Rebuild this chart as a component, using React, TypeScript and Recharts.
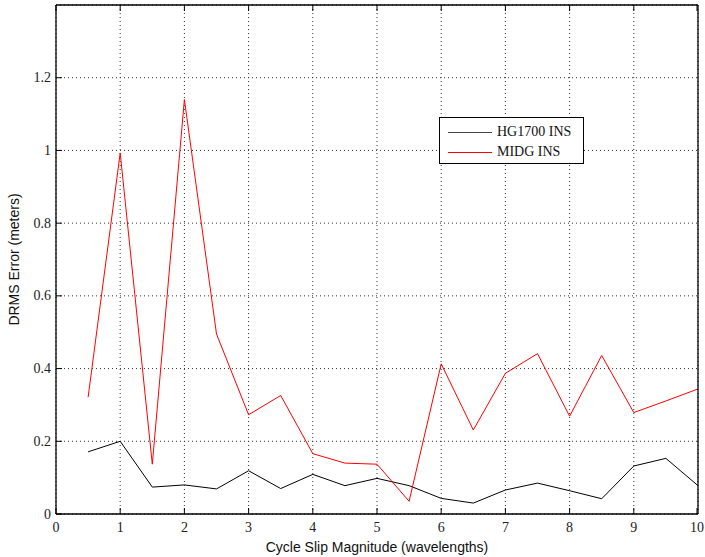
import React from "react"
import { CartesianGrid, Line, LineChart, XAxis, YAxis } from "recharts"

// cycle slip magnitude (wavelengths)
const slips = [0.5, 1, 1.5, 2, 2.5, 3, 3.5, 4, 4.5, 5, 5.5, 6, 6.5, 7, 7.5, 8, 8.5, 9, 9.5, 10]

// DRMS error (meters) per INS
const hg1700 = [0.171, 0.2, 0.074, 0.08, 0.069, 0.119, 0.07, 0.109, 0.078, 0.098, 0.078, 0.043, 0.03, 0.066, 0.085, 0.064, 0.042, 0.132, 0.153, 0.078]
const midg = [0.321, 0.993, 0.137, 1.14, 0.495, 0.273, 0.326, 0.166, 0.14, 0.137, 0.035, 0.413, 0.231, 0.387, 0.441, 0.269, 0.436, 0.279, 0.311, 0.344]

const xTicks = [0, 1, 2, 3, 4, 5, 6, 7, 8, 9, 10]
const yTicks = [0, 0.2, 0.4, 0.6, 0.8, 1, 1.2]

const rows = slips.map((slip, i) => ({ slip, hg1700: hg1700[i], midg: midg[i] }))

const SERIF = "Liberation Serif"
const SANS = "Liberation Sans"
const TICK_LEN = 6

// ticks point inward, labels sit outside the box
function BottomTick({ x, y, payload }: any) {
  return (
    <g>
      <line x1={x} x2={x} y1={y} y2={y - TICK_LEN} stroke="#000" />
      <text x={x} y={y + 18} textAnchor="middle" fontFamily={SERIF} fontSize={14} fill="#222">
        {payload.value}
      </text>
    </g>
  )
}

function LeftTick({ x, y, payload }: any) {
  return (
    <g>
      <line x1={x} x2={x + TICK_LEN} y1={y} y2={y} stroke="#000" />
      <text x={x - 5} y={y + 4.5} textAnchor="end" fontFamily={SERIF} fontSize={14} fill="#222">
        {payload.value}
      </text>
    </g>
  )
}

function TopTick({ x, y }: any) {
  return <line x1={x} x2={x} y1={y} y2={y + TICK_LEN} stroke="#000" />
}

function RightTick({ x, y }: any) {
  return <line x1={x} x2={x - TICK_LEN} y1={y} y2={y} stroke="#000" />
}

function LegendBox() {
  const items = [
    { name: "HG1700 INS", color: "#444" },
    { name: "MIDG INS", color: "#ff0000" },
  ]
  return (
    <div
      style={{
        position: "absolute",
        left: 439,
        top: 117,
        width: 145,
        height: 47,
        border: "1.5px solid #000",
        background: "#fff",
        fontFamily: SERIF,
        fontSize: 14,
        color: "#111",
        boxSizing: "border-box",
      }}
    >
      {items.map((item, i) => (
        <div
          key={item.name}
          style={{ position: "absolute", left: 8, top: 5 + i * 20, display: "flex", alignItems: "center", height: 18 }}
        >
          <span style={{ display: "inline-block", width: 44, height: 1, background: item.color, marginRight: 5 }} />
          <span>{item.name}</span>
        </div>
      ))}
    </div>
  )
}

export default function App() {
  return (
    <div style={{ position: "relative", width: 705, height: 557, background: "#fff" }}>
      <style>{`body { margin: 0; }`}</style>
      <LineChart width={705} height={557} data={rows} margin={{ top: 0, right: 0, bottom: 0, left: 0 }}>
        <CartesianGrid stroke="#333" strokeDasharray="1 3" />
        <XAxis
          dataKey="slip"
          type="number"
          domain={[0, 10]}
          ticks={xTicks}
          height={43}
          tickSize={0}
          tickMargin={0}
          tick={BottomTick}
          tickLine={false}
          stroke="#000"
          strokeWidth={1.3}
          label={{
            value: "Cycle Slip Magnitude (wavelengths)",
            position: "insideBottom",
            offset: 5,
            style: { fontFamily: SANS, fontSize: 14, fill: "#111" },
          }}
        />
        <XAxis
          xAxisId="top"
          orientation="top"
          dataKey="slip"
          type="number"
          domain={[0, 10]}
          ticks={xTicks}
          height={5}
          tickSize={0}
          tickMargin={0}
          tick={TopTick}
          tickLine={false}
          stroke="#000"
          strokeWidth={1.3}
        />
        <YAxis
          type="number"
          domain={[0, 1.4]}
          ticks={yTicks}
          width={56}
          tickSize={0}
          tickMargin={0}
          tick={LeftTick}
          tickLine={false}
          stroke="#000"
          strokeWidth={1.3}
          label={{
            value: "DRMS Error (meters)",
            angle: -90,
            position: "insideLeft",
            offset: 14,
            style: { fontFamily: SANS, fontSize: 14, fill: "#111", textAnchor: "middle" },
          }}
        />
        <YAxis
          yAxisId="right"
          orientation="right"
          type="number"
          domain={[0, 1.4]}
          ticks={yTicks}
          width={7}
          tickSize={0}
          tickMargin={0}
          tick={RightTick}
          tickLine={false}
          stroke="#000"
          strokeWidth={1.3}
        />
        <Line dataKey="hg1700" name="HG1700 INS" stroke="#000" strokeWidth={1} dot={false} isAnimationActive={false} />
        <Line dataKey="midg" name="MIDG INS" stroke="#ff0000" strokeWidth={1} dot={false} isAnimationActive={false} />
      </LineChart>
      <LegendBox />
    </div>
  )
}
